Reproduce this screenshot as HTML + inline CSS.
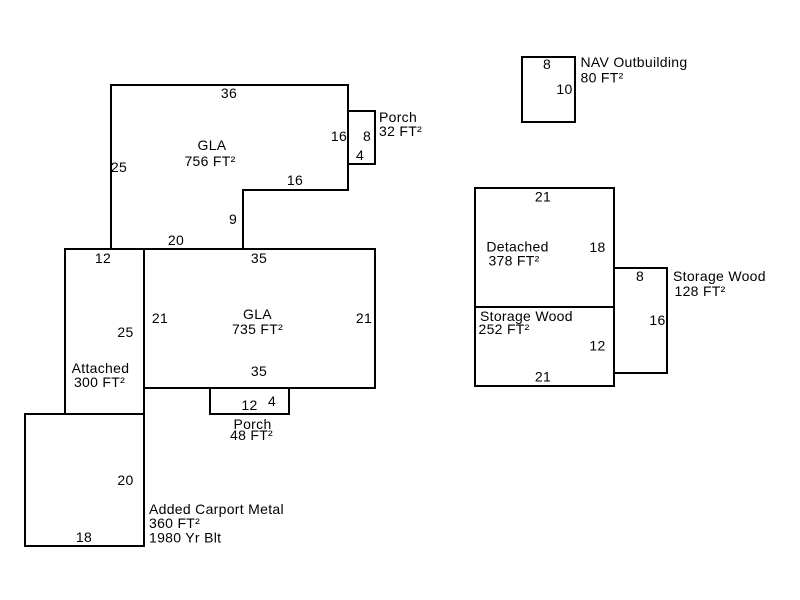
<!DOCTYPE html>
<html>
<head>
<meta charset="utf-8">
<style>
html,body{margin:0;padding:0;background:#fff;}
svg{display:block;}
text{font-family:"Liberation Sans",Arial,sans-serif;font-size:14px;fill:#000;letter-spacing:0.3px;}
.m{text-anchor:middle;}
</style>
</head>
<body>
<svg width="800" height="600" viewBox="0 0 800 600" xmlns="http://www.w3.org/2000/svg">
<rect width="800" height="600" fill="#fff"/>
<g fill="none" stroke="#000" stroke-width="2" stroke-linejoin="miter">
  <!-- GLA upper -->
  <polygon points="111,85 348,85 348,190 243,190 243,249 111,249"/>
  <!-- Porch upper -->
  <rect x="348" y="111" width="27" height="53"/>
  <!-- Attached -->
  <rect x="65" y="249" width="79" height="165"/>
  <!-- GLA lower -->
  <rect x="144" y="249" width="231" height="139"/>
  <!-- Porch lower -->
  <rect x="210" y="388" width="79" height="26"/>
  <!-- Carport -->
  <rect x="25" y="414" width="119" height="132"/>
  <!-- NAV -->
  <rect x="522" y="57" width="53" height="65"/>
  <!-- Detached -->
  <rect x="475" y="188" width="139" height="119"/>
  <!-- Storage 252 -->
  <rect x="475" y="307" width="139" height="79"/>
  <!-- Storage 128 -->
  <rect x="614" y="268" width="53" height="105"/>
</g>

<text class="m" x="229" y="98">36</text>
<text class="m" x="212" y="150">GLA</text>
<text class="m" x="210" y="166">756 FT²</text>
<text class="m" x="119" y="172">25</text>
<text class="m" x="339" y="141">16</text>
<text class="m" x="367" y="141">8</text>
<text class="m" x="360" y="160">4</text>
<text x="379" y="122">Porch</text>
<text x="379" y="136">32 FT²</text>
<text class="m" x="295" y="185">16</text>
<text class="m" x="233" y="224">9</text>
<text class="m" x="176" y="245">20</text>
<text class="m" x="103" y="263">12</text>
<text class="m" x="259" y="263">35</text>
<text class="m" x="160" y="323">21</text>
<text class="m" x="125.5" y="337">25</text>
<text class="m" x="257.5" y="319">GLA</text>
<text class="m" x="257.5" y="334">735 FT²</text>
<text class="m" x="364" y="323">21</text>
<text class="m" x="100.5" y="373">Attached</text>
<text class="m" x="99.5" y="387">300 FT²</text>
<text class="m" x="259" y="376">35</text>
<text class="m" x="249.5" y="410">12</text>
<text class="m" x="272" y="406">4</text>
<text class="m" x="252.5" y="429">Porch</text>
<text class="m" x="251.5" y="440">48 FT²</text>
<text class="m" x="125.5" y="485">20</text>
<text class="m" x="84" y="542">18</text>
<text x="149" y="514">Added Carport Metal</text>
<text x="149" y="528">360 FT²</text>
<text x="149" y="542.5">1980 Yr Blt</text>

<text class="m" x="547" y="69">8</text>
<text class="m" x="564.5" y="94">10</text>
<text x="580.5" y="67">NAV Outbuilding</text>
<text x="580.5" y="82.5">80 FT²</text>

<text class="m" x="543" y="201.5">21</text>
<text class="m" x="517.5" y="251.5">Detached</text>
<text class="m" x="514" y="265.5">378 FT²</text>
<text class="m" x="597.5" y="252">18</text>
<text class="m" x="640" y="281">8</text>
<text x="673" y="281">Storage Wood</text>
<text x="674.5" y="296">128 FT²</text>
<text class="m" x="657.5" y="325">16</text>
<text x="480" y="321">Storage Wood</text>
<text x="478.5" y="334">252 FT²</text>
<text class="m" x="597.5" y="350.5">12</text>
<text class="m" x="543" y="381.5">21</text>
</svg>
</body>
</html>
